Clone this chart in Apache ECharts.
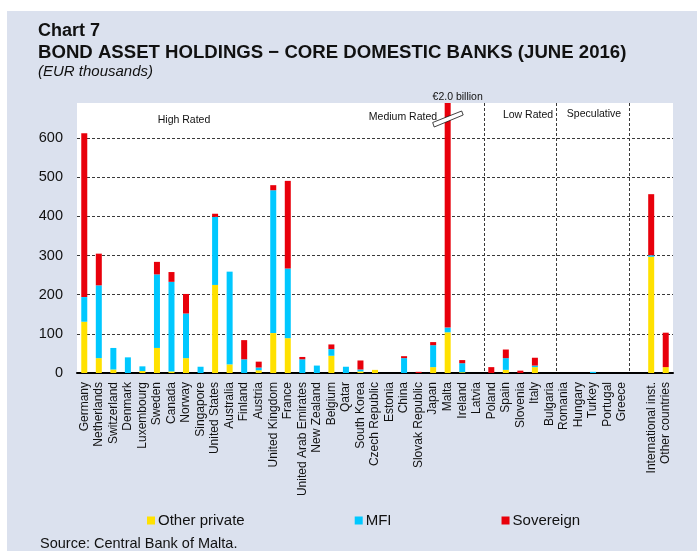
<!DOCTYPE html>
<html>
<head>
<meta charset="utf-8">
<script src="https://cdn.jsdelivr.net/npm/echarts@6/dist/echarts.min.js"></script>
<style>
  html, body { margin: 0; padding: 0; background: #ffffff; }
  #wrap { position: relative; width: 697px; height: 551px; overflow: hidden; background: #ffffff; }
  #panel { position: absolute; left: 7px; top: 11px; right: 0; bottom: 0; background: #dbe1ee; }
  #chart { position: absolute; left: 0; top: 0; width: 697px; height: 551px; }
</style>
</head>
<body>
<div id="wrap">
  <div id="panel"></div>
  <div id="chart"></div>
</div>
<script>
// Counterparty countries, grouped by rating bucket (blank slot separates the last two)
const categories = [
  'Germany', 'Netherlands', 'Switzerland', 'Denmark', 'Luxembourg', 'Sweden', 'Canada', 'Norway',
  'Singapore', 'United States', 'Australia', 'Finland', 'Austria', 'United Kingdom', 'France',
  'United Arab Emirates', 'New Zealand', 'Belgium', 'Qatar', 'South Korea',
  'Czech Republic', 'Estonia', 'China', 'Slovak Republic', 'Japan', 'Malta', 'Ireland', 'Latvia',
  'Poland', 'Spain', 'Slovenia', 'Italy', 'Bulgaria',
  'Romania', 'Hungary', 'Turkey', 'Portugal', 'Greece',
  '', 'International inst.', 'Other countries'
];

// Holdings by issuer type (EUR thousands)
const otherPrivate = [131, 38, 9, 0, 5, 64, 4, 38, 0, 225, 22, 0, 7, 102, 89, 0, 0, 44, 0, 4,
  8, 0, 0, 0, 15, 104, 2, 0,
  0, 8, 0, 15, 0,
  0, 0, 0, 0, 0,
  null, 297, 15];
const mfi = [63, 186, 55, 40, 12, 188, 229, 114, 16, 174, 237, 35, 7, 365, 178, 35, 19, 17, 16, 5,
  0, 0, 38, 0, 56, 12, 23, 0,
  0, 30, 0, 4, 0,
  0, 0, 3, 0, 0,
  null, 4, 0];
const sovereign = [419, 81, 0, 0, 0, 32, 25, 50, 0, 8, 0, 49, 15, 13, 224, 6, 0, 12, 0, 23,
  0, 0, 5, 3, 8, 1884, 8, 0,
  15, 22, 6, 20, 0,
  0, 0, 0, 0, 0,
  null, 156, 88];

const seriesNames = ['Other private', 'MFI', 'Sovereign'];
const seriesColors = ['#ffe100', '#00c8ff', '#e8000b'];

// Rating buckets: label and index of first category after each divider
const bucketLabels = ['High Rated', 'Medium Rated', 'Low Rated', 'Speculative'];
const dividerIndex = [20, 28, 33, 38];

const yTicks = { min: 0, max: 690, interval: 100 };

const FONT = '"Liberation Sans", Arial, sans-serif';

const chart = echarts.init(document.getElementById('chart'), null, { renderer: 'canvas' });

const values = [otherPrivate, mfi, sovereign];

const option = {
  backgroundColor: 'transparent',
  animation: false,
  textStyle: { fontFamily: FONT },
  grid: {
    left: 77, right: 24, top: 103, bottom: 178,
    show: true, backgroundColor: '#ffffff', borderWidth: 0
  },
  legend: {
    left: 142, top: 508,
    itemWidth: 8, itemHeight: 8, itemGap: 110,
    icon: 'rect',
    textStyle: { fontSize: 15, color: '#111', fontFamily: FONT, padding: [0, 0, 0, -2] },
    data: seriesNames
  },
  xAxis: {
    type: 'category',
    data: categories,
    axisLine: { show: true, lineStyle: { color: '#000', width: 2 } },
    axisTick: { show: false },
    axisLabel: { interval: 0, rotate: 90, fontSize: 12, color: '#111', margin: 9, fontFamily: FONT },
    splitLine: {
      show: true, showMinLine: false, showMaxLine: false,
      interval: (i) => dividerIndex.indexOf(i) >= 0,
      lineStyle: { color: '#3a3a3a', width: 1, type: [3, 2] }
    }
  },
  yAxis: {
    type: 'value',
    min: yTicks.min, max: yTicks.max, interval: yTicks.interval,
    axisLine: { show: false },
    axisTick: { show: false },
    axisLabel: { fontSize: 14.5, color: '#111', margin: 14, showMaxLabel: false, fontFamily: FONT },
    splitLine: {
      show: true, showMinLine: false, showMaxLine: false,
      lineStyle: { color: '#3a3a3a', width: 1, type: [3, 2] }
    }
  },
  series: seriesNames.map((name, k) => ({
    name,
    type: 'bar',
    stack: 'total',
    barWidth: 6,
    clip: true,
    itemStyle: { color: seriesColors[k] },
    data: values[k]
  }))
};

chart.setOption(option);

// Decorations: title block, bucket labels, axis-break marker on the clipped bar
const maltaIdx = categories.indexOf('Malta');
const maltaTotal = otherPrivate[maltaIdx] + mfi[maltaIdx] + sovereign[maltaIdx];
const maltaX = chart.convertToPixel({ xAxisIndex: 0 }, maltaIdx);
const breakY = 119;

const bucketPos = [[184, 120], [403, 117], [528, 115], [594, 114]];

const graphics = [
  { type: 'text', x: 38, y: 31, style: { text: 'Chart 7', font: 'bold 18px ' + FONT, fill: '#111', verticalAlign: 'middle' } },
  { type: 'text', x: 38, y: 52.5, style: { text: 'BOND ASSET HOLDINGS \u2212 CORE DOMESTIC BANKS (JUNE 2016)', font: 'bold 18.6px ' + FONT, fill: '#111', verticalAlign: 'middle' } },
  { type: 'text', x: 38, y: 72, style: { text: '(EUR thousands)', font: 'italic 15px ' + FONT, fill: '#111', verticalAlign: 'middle' } },
  { type: 'text', x: 40, y: 544, style: { text: 'Source: Central Bank of Malta.', font: '14.5px ' + FONT, fill: '#111', verticalAlign: 'middle' } },
  {
    type: 'text', x: maltaX + 10, y: 97,
    style: { text: '\u20ac' + (maltaTotal / 1000).toFixed(1) + ' billion', font: '10.5px ' + FONT, fill: '#111', align: 'center', verticalAlign: 'middle' },
    z: 10
  },
  {
    type: 'polygon', z: 10,
    shape: { points: [[maltaX - 15, breakY + 3.5], [maltaX + 14, breakY - 8], [maltaX + 15.5, breakY - 4], [maltaX - 13.5, breakY + 8]] },
    style: { fill: '#ffffff', stroke: '#111', lineWidth: 0.8 }
  }
];
bucketLabels.forEach((t, i) => {
  graphics.push({
    type: 'text', x: bucketPos[i][0], y: bucketPos[i][1], z: 10,
    style: { text: t, font: '10.5px ' + FONT, fill: '#111', align: 'center', verticalAlign: 'middle' }
  });
});

chart.setOption({ graphic: graphics });
</script>
</body>
</html>
